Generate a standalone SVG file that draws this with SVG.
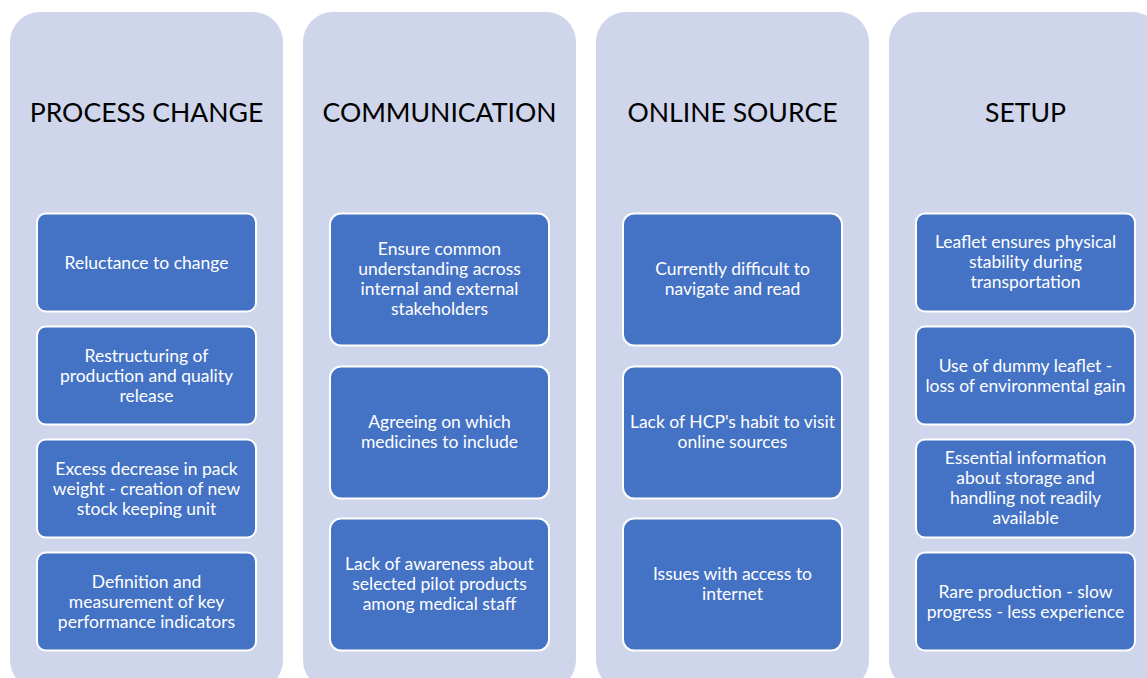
<svg xmlns="http://www.w3.org/2000/svg" width="1147" height="678" viewBox="0 0 1147 678">
<style>
.col{fill:#CFD5EA}
.box{fill:#4472C4;stroke:#FFFFFF;stroke-width:2}
.title{font-family:Lato,"Liberation Sans",sans-serif;font-size:26.6px;fill:#000000;text-anchor:middle}
.t{font-family:Lato,"Liberation Sans",sans-serif;font-size:17.5px;fill:#FFFFFF;text-anchor:middle}
</style>
<rect width="1147" height="678" fill="#FFFFFF"/>
<g id="col-process-change">
<rect class="col" x="10" y="12" width="273" height="678" rx="30"/>
<text class="title" x="146.5" y="122">PROCESS CHANGE</text>
</g>
<g id="col-communication">
<rect class="col" x="303" y="12" width="273" height="678" rx="30"/>
<text class="title" x="439.5" y="122">COMMUNICATION</text>
</g>
<g id="col-online-source">
<rect class="col" x="596" y="12" width="273" height="678" rx="30"/>
<text class="title" x="732.5" y="122">ONLINE SOURCE</text>
</g>
<g id="col-setup">
<rect class="col" x="889" y="12" width="273" height="678" rx="30"/>
<text class="title" x="1025.5" y="122">SETUP</text>
</g>
<g id="connectors"></g>
<g id="n1">
<rect class="box" x="37" y="213.5" width="219" height="98" rx="9"/>
<text class="t" x="146.5" y="268.5">Reluctance to change</text>
</g>
<g id="n2">
<rect class="box" x="37" y="326.5" width="219" height="98" rx="9"/>
<text class="t" x="146.5" y="361.5">Restructuring of<tspan x="146.5" dy="20">production and quality</tspan><tspan x="146.5" dy="20">release</tspan></text>
</g>
<g id="n3">
<rect class="box" x="37" y="439.5" width="219" height="98" rx="9"/>
<text class="t" x="146.5" y="474.5">Excess decrease in pack<tspan x="146.5" dy="20">weight - creation of new</tspan><tspan x="146.5" dy="20">stock keeping unit</tspan></text>
</g>
<g id="n4">
<rect class="box" x="37" y="552.5" width="219" height="98" rx="9"/>
<text class="t" x="146.5" y="587.5">Definition and<tspan x="146.5" dy="20">measurement of key</tspan><tspan x="146.5" dy="20">performance indicators</tspan></text>
</g>
<g id="n5">
<rect class="box" x="330" y="213.5" width="219" height="132" rx="11"/>
<text class="t" x="439.5" y="254.5">Ensure common<tspan x="439.5" dy="20">understanding across</tspan><tspan x="439.5" dy="20">internal and external</tspan><tspan x="439.5" dy="20">stakeholders</tspan></text>
</g>
<g id="n6">
<rect class="box" x="330" y="366.5" width="219" height="132" rx="11"/>
<text class="t" x="439.5" y="427.5">Agreeing on which<tspan x="439.5" dy="20">medicines to include</tspan></text>
</g>
<g id="n7">
<rect class="box" x="330" y="518.5" width="219" height="132" rx="11"/>
<text class="t" x="439.5" y="569.5">Lack of awareness about<tspan x="439.5" dy="20">selected pilot products</tspan><tspan x="439.5" dy="20">among medical staff</tspan></text>
</g>
<g id="n8">
<rect class="box" x="623" y="213.5" width="219" height="132" rx="11"/>
<text class="t" x="732.5" y="274.5">Currently difficult to<tspan x="732.5" dy="20">navigate and read</tspan></text>
</g>
<g id="n9">
<rect class="box" x="623" y="366.5" width="219" height="132" rx="11"/>
<text class="t" x="732.5" y="427.5">Lack of HCP's habit to visit<tspan x="732.5" dy="20">online sources</tspan></text>
</g>
<g id="n10">
<rect class="box" x="623" y="518.5" width="219" height="132" rx="11"/>
<text class="t" x="732.5" y="579.5">Issues with access to<tspan x="732.5" dy="20">internet</tspan></text>
</g>
<g id="n11">
<rect class="box" x="916" y="213.5" width="219" height="98" rx="9"/>
<text class="t" x="1025.5" y="247.5">Leaflet ensures physical<tspan x="1025.5" dy="20">stability during</tspan><tspan x="1025.5" dy="20">transportation</tspan></text>
</g>
<g id="n12">
<rect class="box" x="916" y="326.5" width="219" height="98" rx="9"/>
<text class="t" x="1025.5" y="371.5">Use of dummy leaflet -<tspan x="1025.5" dy="20">loss of environmental gain</tspan></text>
</g>
<g id="n13">
<rect class="box" x="916" y="439.5" width="219" height="98" rx="9"/>
<text class="t" x="1025.5" y="463.5">Essential information<tspan x="1025.5" dy="20">about storage and</tspan><tspan x="1025.5" dy="20">handling not readily</tspan><tspan x="1025.5" dy="20">available</tspan></text>
</g>
<g id="n14">
<rect class="box" x="916" y="552.5" width="219" height="98" rx="9"/>
<text class="t" x="1025.5" y="597.5">Rare production - slow<tspan x="1025.5" dy="20">progress - less experience</tspan></text>
</g>
</svg>
